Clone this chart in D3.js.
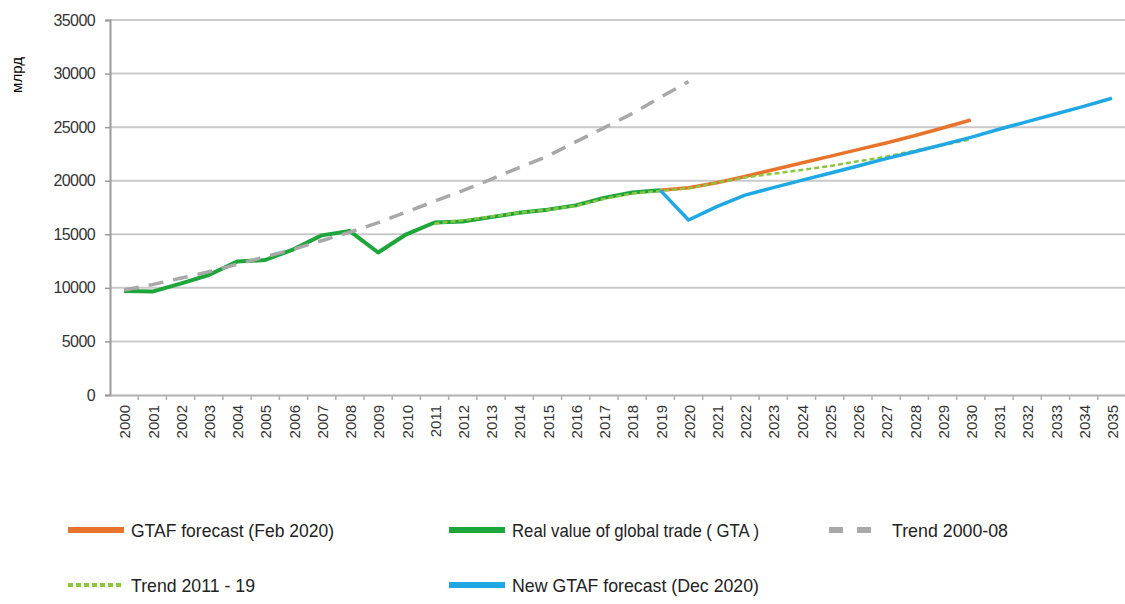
<!DOCTYPE html>
<html>
<head>
<meta charset="utf-8">
<script src="https://cdn.jsdelivr.net/npm/d3@7"></script>
<style>
  body { margin: 0; background: #fff; }
  text { font-family: "Liberation Sans", Arial, sans-serif; }
</style>
</head>
<body>
<script>
const width = 1125;
const height = 604;

// categories
const years = [2000, 2001, 2002, 2003, 2004, 2005, 2006, 2007, 2008, 2009,
  2010, 2011, 2012, 2013, 2014, 2015, 2016, 2017, 2018, 2019,
  2020, 2021, 2022, 2023, 2024, 2025, 2026, 2027, 2028, 2029,
  2030, 2031, 2032, 2033, 2034, 2035];

const yTicks = [0, 5000, 10000, 15000, 20000, 25000, 30000, 35000];

// series, each starts at its first year
const realGTA = [9700, 9650, 10400, 11200, 12450, 12600, 13600, 14900, 15300, 13300,
  15000, 16100, 16200, 16600, 17000, 17300, 17700, 18400, 18900, 19100];
const realGTAStart = 2000;

const trend0008 = [9800, 10300, 10900, 11500, 12200, 12900, 13600, 14400, 15200, 16080,
  17080, 18080, 19080, 20130, 21230, 22290, 23620, 24930, 26260, 27780, 29250];
const trend0008Start = 2000;

const gtafFeb = [19100, 19350, 19810, 20400, 21030, 21650, 22270, 22900, 23520, 24200,
  24920, 25670];
const gtafFebStart = 2019;

const trend1119 = [16000, 16300, 16650, 17000, 17300, 17650, 18300, 18800, 19050, 19300,
  19810, 20310, 20650, 21000, 21370, 21810, 22240, 22800, 23330, 23860];
const trend1119Start = 2011;

const gtafDec = [19100, 16330, 17580, 18650, 19350, 20030, 20690, 21370, 22060, 22710,
  23360, 24050, 24800, 25510, 26230, 26940, 27700];
const gtafDecStart = 2019;

const margin = { top: 20, left: 110, bottom: 395, right: 1126 };

const svg = d3.select('body').append('svg')
  .attr('width', width)
  .attr('height', height);

const x = d3.scaleBand()
  .domain(years)
  .range([margin.left, margin.right]);

const y = d3.scaleLinear()
  .domain([0, 35000])
  .range([margin.bottom, margin.top]);

const cx = yr => x(yr) + x.bandwidth() / 2;

// gridlines
svg.append('g')
  .selectAll('line')
  .data(yTicks.filter(t => t > 0))
  .enter().append('line')
    .attr('x1', margin.left)
    .attr('x2', margin.right)
    .attr('y1', d => y(d))
    .attr('y2', d => y(d))
    .attr('stroke', '#c9c9c9')
    .attr('stroke-width', 2);

// y axis
const yAxis = svg.append('g')
  .attr('transform', `translate(${margin.left},0)`)
  .call(d3.axisLeft(y).tickValues(yTicks).tickSize(5).tickPadding(10).tickFormat(d3.format('d')));
yAxis.select('.domain').attr('stroke', '#9a9a9a').attr('stroke-width', 2);
yAxis.selectAll('.tick line').attr('stroke', '#9a9a9a').attr('stroke-width', 1.5);
yAxis.selectAll('.tick text')
  .attr('fill', '#333')
  .style('font-size', '16px')
  .style('letter-spacing', '-0.6px')
  .style('font-family', '"Liberation Sans", Arial, sans-serif');

// x axis
const xAxis = svg.append('g')
  .attr('transform', `translate(0,${margin.bottom})`)
  .call(d3.axisBottom(x).tickSize(0).tickPadding(0));
xAxis.select('.domain').attr('stroke', '#b0b0b0').attr('stroke-width', 2);
xAxis.selectAll('.tick text')
  .attr('fill', '#333')
  .style('font-size', '15px')
  .style('font-family', '"Liberation Sans", Arial, sans-serif')
  .attr('text-anchor', 'end')
  .attr('transform', 'translate(1,10) rotate(-90)')
  .attr('x', 0)
  .attr('y', 0)
  .attr('dy', '0.35em');

// ticks between categories
svg.append('g')
  .selectAll('line')
  .data(years.slice(1))
  .enter().append('line')
    .attr('x1', d => x(d))
    .attr('x2', d => x(d))
    .attr('y1', margin.bottom)
    .attr('y2', margin.bottom + 5)
    .attr('stroke', '#b0b0b0')
    .attr('stroke-width', 1.5);

// y label
svg.append('text')
  .attr('transform', 'translate(22,75) rotate(-90)')
  .attr('text-anchor', 'middle')
  .style('font-size', '15px')
  .attr('fill', '#000')
  .text('млрд');

const line = d3.line()
  .x(d => cx(d.year))
  .y(d => y(d.value));

const toPoints = (vals, start) => vals.map((v, i) => ({ year: start + i, value: v }));

const series = [
  { name: 'Real value of global trade ( GTA )', vals: realGTA, start: realGTAStart, color: '#1ea63c', w: 4, dash: null },
  { name: 'Trend 2000-08', vals: trend0008, start: trend0008Start, color: '#a8a8a8', w: 3.5, dash: '15,10' },
  { name: 'GTAF forecast (Feb 2020)', vals: gtafFeb, start: gtafFebStart, color: '#e8742c', w: 3.5, dash: null },
  { name: 'Trend 2011 - 19', vals: trend1119, start: trend1119Start, color: '#8cc63e', w: 2.5, dash: '5,3' },
  { name: 'New GTAF forecast (Dec 2020)', vals: gtafDec, start: gtafDecStart, color: '#1fa8e4', w: 3.5, dash: null }
];

svg.append('g')
  .selectAll('path')
  .data(series)
  .enter().append('path')
    .attr('d', s => line(toPoints(s.vals, s.start)))
    .attr('fill', 'none')
    .attr('stroke', s => s.color)
    .attr('stroke-width', s => s.w)
    .attr('stroke-linejoin', 'round')
    .attr('stroke-dasharray', s => s.dash);

// legend
const legendItems = [
  { s: series[2], x: 68, y: 530, tw: 203 },
  { s: series[0], x: 449, y: 530, tw: 247 },
  { s: series[1], x: 829, y: 530, tw: 116 },
  { s: series[3], x: 68, y: 585, tw: 124 },
  { s: series[4], x: 449, y: 585, tw: 247 }
];

const lg = svg.append('g')
  .selectAll('g')
  .data(legendItems)
  .enter().append('g')
    .attr('transform', d => `translate(${d.x},${d.y})`);

lg.append('line')
  .attr('x1', 0)
  .attr('x2', 56)
  .attr('stroke', d => d.s.color)
  .attr('stroke-width', d => d.s.dash === '5,3' ? 4 : 6)
  .attr('stroke-dasharray', d => d.s.dash === '15,10' ? '14,14' : d.s.dash);

lg.append('text')
  .attr('x', 63)
  .attr('dy', '0.36em')
  .attr('textLength', d => d.tw)
  .attr('lengthAdjust', 'spacingAndGlyphs')
  .style('font-size', '19px')
  .attr('fill', '#222')
  .text(d => d.s.name);
</script>
</body>
</html>
